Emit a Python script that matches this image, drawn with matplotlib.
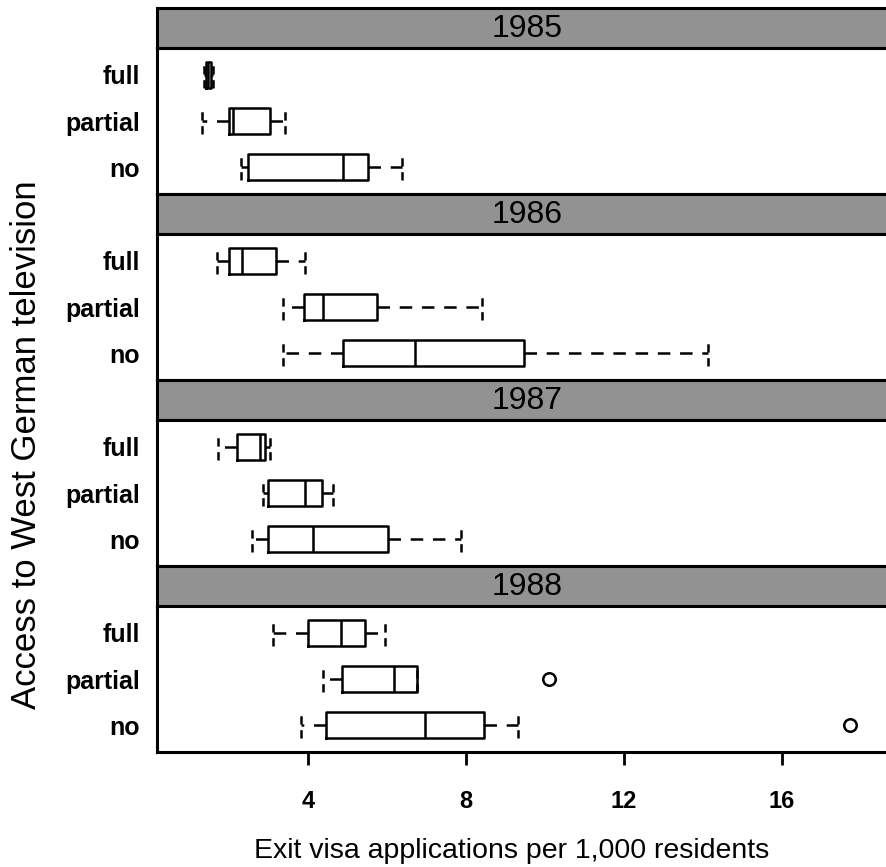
import matplotlib
matplotlib.use("Agg")
import matplotlib.pyplot as plt

plt.rcParams['font.family'] = ['Liberation Sans', 'DejaVu Sans']
plt.rcParams['lines.scale_dashes'] = False

years = ["1985", "1986", "1987", "1988"]
categories = ["full", "partial", "no"]

# five-number summaries per year: [whisker low, q1, median, q3, whisker high]
stats_1985 = {"full": [1.38, 1.42, 1.47, 1.55, 1.60],
              "partial": [1.31, 2.01, 2.11, 3.05, 3.42],
              "no": [2.30, 2.49, 4.88, 5.53, 6.37]}
stats_1986 = {"full": [1.70, 2.00, 2.34, 3.18, 3.92],
              "partial": [3.38, 3.90, 4.39, 5.75, 8.41],
              "no": [3.38, 4.88, 6.72, 9.46, 14.12]}
stats_1987 = {"full": [1.73, 2.21, 2.78, 2.91, 3.05],
              "partial": [2.87, 3.00, 3.92, 4.35, 4.64],
              "no": [2.59, 3.00, 4.12, 6.03, 7.87]}
stats_1988 = {"full": [3.12, 4.01, 4.84, 5.45, 5.95],
              "partial": [4.37, 4.85, 6.19, 6.76, 6.76],
              "no": [3.83, 4.46, 6.96, 8.45, 9.32]}
outliers_1988 = {"full": [], "partial": [10.09], "no": [17.73]}
outliers_none = {"full": [], "partial": [], "no": []}

all_stats = [stats_1985, stats_1986, stats_1987, stats_1988]
all_outliers = [outliers_none, outliers_none, outliers_none, outliers_1988]

x_ticks = [4, 8, 12, 16]
xlim = (0.18, 18.91)

W, H = 887, 867
fig = plt.figure(figsize=(W / 100, H / 100), dpi=100)

left_px, right_px = 157, 897
top_px, bottom_px = 8, 752
panel_h = (bottom_px - top_px) / 4
strip_h = 40

positions = {"full": 3, "partial": 2, "no": 1}

for i, (yr, st, out) in enumerate(zip(years, all_stats, all_outliers)):
    ptop = top_px + i * panel_h
    sb = ptop + strip_h
    pb = ptop + panel_h
    # strip
    sax = fig.add_axes([left_px / W, 1 - sb / H, (right_px - left_px) / W, strip_h / H])
    sax.set_facecolor('#929292')
    sax.set_xticks([]); sax.set_yticks([])
    for s in sax.spines.values():
        s.set_linewidth(2.2)
    sax.text(0.5, 0.47, yr, transform=sax.transAxes, ha='center', va='center',
             fontsize=23, color='black')
    # body
    ax = fig.add_axes([left_px / W, 1 - pb / H, (right_px - left_px) / W, (pb - sb) / H])
    bstats = []
    pos = []
    for c in categories:
        lo, q1, med, q3, hi = st[c]
        bstats.append(dict(whislo=lo, q1=q1, med=med, q3=q3, whishi=hi, fliers=out[c], label=c))
        pos.append(positions[c])
    ax.bxp(bstats, positions=pos, orientation='horizontal', widths=0.55, capwidths=0.55,
           boxprops=dict(color='black', linewidth=1.8),
           medianprops=dict(color='black', linewidth=1.8),
           whiskerprops=dict(color='black', linewidth=1.8, linestyle=(0, (9, 7))),
           capprops=dict(color='black', linewidth=1.8, linestyle=(0, (6, 4))),
           flierprops=dict(marker='o', markerfacecolor='none', markeredgecolor='black',
                           markersize=9, markeredgewidth=1.8),
           showfliers=True)
    ax.set_xlim(*xlim)
    ax.set_ylim(0.42, 3.58)
    ax.set_yticks(pos)
    ax.set_yticklabels(categories, fontsize=18, fontweight='bold')
    ax.tick_params(axis='y', length=0, pad=12)
    for s in ax.spines.values():
        s.set_linewidth(2.2)
    if i == 3:
        ax.set_xticks(x_ticks)
        ax.set_xticklabels([str(t) for t in x_ticks], fontsize=17, fontweight='bold')
        ax.tick_params(axis='x', length=9, width=2, pad=18)
    else:
        ax.set_xticks([])

fig.text(27 / W, 1 - 445 / H, "Access to West German television", rotation=90,
         ha='center', va='center', fontsize=25)
fig.text(512 / W, 1 - 851 / H, "Exit visa applications per 1,000 residents",
         ha='center', va='center', fontsize=20.5)

fig.savefig("out.png", dpi=100)
